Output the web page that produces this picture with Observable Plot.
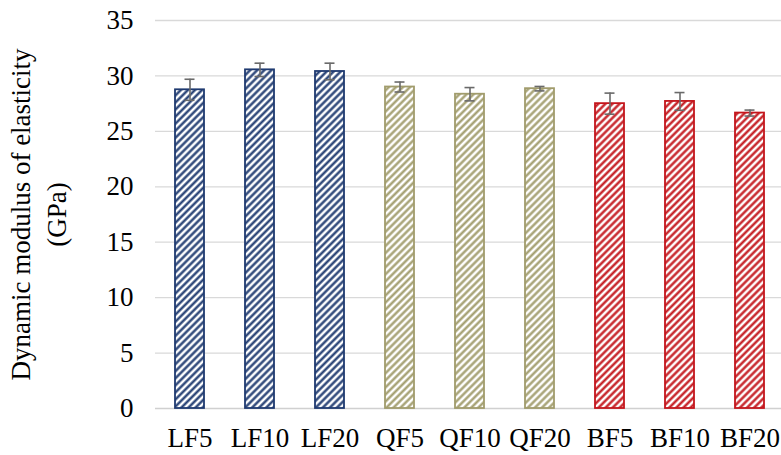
<!DOCTYPE html>
<html>
<head>
<meta charset="utf-8">
<script src="https://cdn.jsdelivr.net/npm/d3@7"></script>
<script src="https://cdn.jsdelivr.net/npm/@observablehq/plot@0.6"></script>
<style>
  html, body { margin: 0; padding: 0; background: #fff; overflow: hidden; }
  #chart svg { display: block; }
</style>
</head>
<body>
<div id="chart"></div>
<script>
// ---- data ----
const categories = ["LF5", "LF10", "LF20", "QF5", "QF10", "QF20", "BF5", "BF10", "BF20"];
const moduli     = [28.75, 30.55, 30.4, 29.0, 28.35, 28.85, 27.5, 27.7, 26.65];
const errors     = [0.95, 0.6, 0.75, 0.45, 0.6, 0.2, 0.95, 0.8, 0.27];
const groups     = ["LF", "LF", "LF", "QF", "QF", "QF", "BF", "BF", "BF"];
const groupNames = ["LF", "QF", "BF"];
const groupColors = {LF: "#1f3a70", QF: "#a19c6c", BF: "#c4161c"};
const yTicks = [0, 5, 10, 15, 20, 25, 30, 35];
const yTitle = "Dynamic modulus of elasticity\n(GPa)";

const rows = categories.map((c, i) => ({cat: c, v: moduli[i], e: errors[i], g: groups[i]}));

const FONT = "'Liberation Serif', 'Times New Roman', serif";

// pattern defs as a custom mark
function hatchDefs() {
  const ns = "http://www.w3.org/2000/svg";
  const defs = document.createElementNS(ns, "defs");
  for (const g of groupNames) {
    const p = document.createElementNS(ns, "pattern");
    p.setAttribute("id", "hatch" + g);
    p.setAttribute("patternUnits", "userSpaceOnUse");
    p.setAttribute("width", "5");
    p.setAttribute("height", "5");
    p.setAttribute("patternTransform", "rotate(45)");
    const bg = document.createElementNS(ns, "rect");
    bg.setAttribute("width", "5");
    bg.setAttribute("height", "5");
    bg.setAttribute("fill", "#fff");
    p.appendChild(bg);
    const l = document.createElementNS(ns, "line");
    l.setAttribute("x1", "1.5"); l.setAttribute("y1", "0");
    l.setAttribute("x2", "1.5"); l.setAttribute("y2", "5");
    l.setAttribute("stroke", groupColors[g]);
    l.setAttribute("stroke-width", "2.3");
    p.appendChild(l);
    defs.appendChild(p);
  }
  return defs;
}

const barMarks = groupNames.map(g => Plot.barY(rows.filter(d => d.g === g), {
  x: "cat", y: "v",
  fill: `url(#hatch${g})`,
  stroke: groupColors[g],
  strokeWidth: 1.8
}));

const chart = Plot.plot({
  width: 781,
  height: 455,
  marginLeft: 155,
  marginRight: 0,
  marginTop: 20,
  marginBottom: 47,
  style: {fontFamily: FONT, fontSize: "27px", color: "#000", background: "#fff"},
  x: {domain: categories, range: [154, 784], paddingInner: 0.586, paddingOuter: 0.293, label: null},
  y: {domain: [0, 35], ticks: yTicks, label: null},
  marks: [
    hatchDefs,
    Plot.gridY(yTicks.filter(t => t > 0), {stroke: "#d9d9d9", strokeOpacity: 1, strokeWidth: 1.3}),
    Plot.ruleY([0], {stroke: "#d0d0d0", strokeWidth: 1.5}),
    ...barMarks,
    Plot.ruleX(rows, {x: "cat", y1: d => d.v - d.e, y2: d => d.v + d.e, stroke: "#6a6a6a", strokeWidth: 1.6}),
    Plot.tickY(rows, {x: "cat", y: d => d.v + d.e, stroke: "#6a6a6a", strokeWidth: 1.6, insetLeft: 9.5, insetRight: 9.5}),
    Plot.tickY(rows, {x: "cat", y: d => d.v - d.e, stroke: "#6a6a6a", strokeWidth: 1.6, insetLeft: 9.5, insetRight: 9.5}),
    Plot.axisY({ticks: yTicks, tickSize: 0, tickPadding: 22, fontSize: 27, fontFamily: FONT, fill: "#000"}),
    Plot.axisX({tickSize: 0, tickPadding: 19, fontSize: 27, fontFamily: FONT, fill: "#000"}),
    Plot.text([yTitle], {
      text: d => d, frameAnchor: "left", textAnchor: "middle", lineAnchor: "middle",
      rotate: -90, dx: -119,
      lineHeight: 1.33, fontSize: 27, fontFamily: FONT, fill: "#000"
    })
  ]
});

document.getElementById("chart").appendChild(chart);
</script>
</body>
</html>
